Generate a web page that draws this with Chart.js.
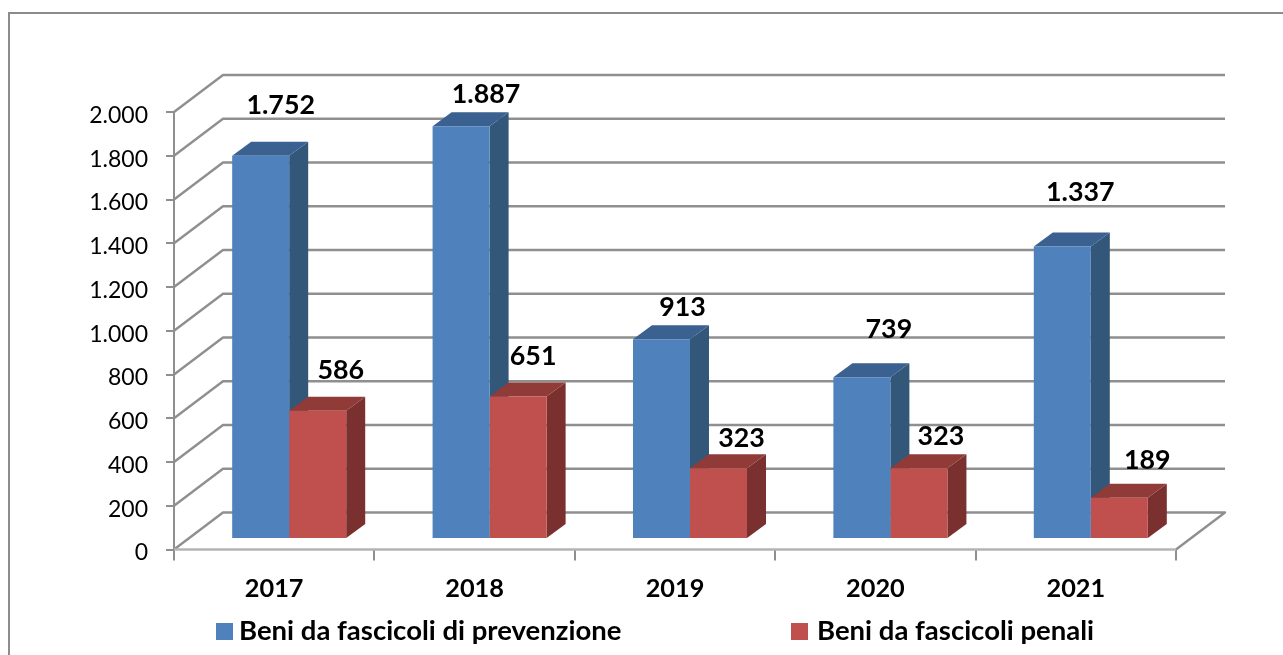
<!DOCTYPE html>
<html lang="it">
<head>
<meta charset="utf-8">
<title>Beni da fascicoli</title>
<script src="https://cdn.jsdelivr.net/npm/chart.js@4"></script>
<style>
  html, body { margin: 0; padding: 0; background: #fff; overflow: hidden; }
  canvas { display: block; }
</style>
</head>
<body>
<canvas id="chart" width="1283" height="655"></canvas>
<script>
const years = ['2017', '2018', '2019', '2020', '2021'];
const prevenzione = [1752, 1887, 913, 739, 1337];
const penali = [586, 651, 323, 323, 189];
const yTickLabels = ['0', '200', '400', '600', '800', '1.000', '1.200', '1.400', '1.600', '1.800', '2.000'];

// the value labels were placed by hand in the original, so each has its own nudge
const labelNudgeX = [[20, 25, 21, 27, 18], [23, 15, 23, 22, 28]];
const labelLift = [[50, 32, 32, 48, 54], [40, 40, 30, 32, 37]];

const legendBoxX = [216, 791];
const legendTextX = [239, 817];

const faces = [
  { front: '#4f81bd', side: '#335779', top: '#3a618f' },
  { front: '#c0504d', side: '#7a302e', top: '#903b38' },
];
const gridColor = '#8f8f8f';
const wall = { x: 49, y: -37 };    // depth of the chart box
const plane = { x: 15, y: -10.5 }; // where the bars stand on the floor
const depth = { x: 19, y: -14 };   // depth of one bar
const fontName = 'Lato, Carlito, Calibri, sans-serif';

function fmt(v) {
  return String(v).replace(/\B(?=(\d{3})+$)/g, '.');
}

function poly(ctx, color, pts) {
  ctx.fillStyle = color;
  ctx.beginPath();
  pts.forEach((p, i) => (i ? ctx.lineTo(p[0], p[1]) : ctx.moveTo(p[0], p[1])));
  ctx.closePath();
  ctx.fill();
}

const box3d = {
  id: 'box3d',
  beforeDraw(chart) {
    const { ctx, width, height } = chart;
    ctx.save();
    ctx.strokeStyle = '#8c8c8c';
    ctx.lineWidth = 2;
    ctx.beginPath();
    ctx.moveTo(9, height + 2);
    ctx.lineTo(9, 13);
    ctx.lineTo(width + 2, 13);
    ctx.stroke();
    ctx.restore();
  },
  beforeDatasetsDraw(chart) {
    const { ctx, chartArea, scales } = chart;
    const { left, right, bottom } = chartArea;
    ctx.save();
    ctx.strokeStyle = gridColor;
    ctx.lineWidth = 2.4;
    ctx.lineJoin = 'round';
    scales.y.ticks.forEach((t) => {
      const y = scales.y.getPixelForValue(t.value);
      ctx.beginPath();
      ctx.moveTo(left, y);
      ctx.lineTo(left + wall.x, y + wall.y);
      ctx.lineTo(right + wall.x, y + wall.y);
      if (t.value === 0) ctx.lineTo(right, y);
      ctx.stroke();
    });
    ctx.strokeStyle = '#b4b4b4';
    ctx.beginPath();
    ctx.moveTo(left, bottom);
    ctx.lineTo(right, bottom);
    ctx.stroke();
    ctx.restore();

    // bar sides and tops go first, the library then paints the fronts over them
    ctx.save();
    ctx.translate(plane.x, plane.y);
    chart.data.datasets.forEach((ds, di) => {
      chart.getDatasetMeta(di).data.forEach((bar) => {
        const l = bar.x - bar.width / 2;
        const r = bar.x + bar.width / 2;
        poly(ctx, faces[di].side, [
          [r, bar.y], [r + depth.x, bar.y + depth.y],
          [r + depth.x, bar.base + depth.y], [r, bar.base],
        ]);
        poly(ctx, faces[di].top, [
          [l, bar.y], [l + depth.x, bar.y + depth.y],
          [r + depth.x, bar.y + depth.y], [r, bar.y],
        ]);
      });
    });
    // left open on purpose, closed in afterDatasetsDraw
  },
  afterDatasetsDraw(chart) {
    const { ctx } = chart;
    ctx.restore();

    ctx.save();
    ctx.fillStyle = '#000';
    ctx.font = 'bold 26.8px ' + fontName;
    ctx.textAlign = 'center';
    ctx.textBaseline = 'middle';
    chart.data.datasets.forEach((ds, di) => {
      chart.getDatasetMeta(di).data.forEach((bar, i) => {
        const x = bar.x + plane.x + labelNudgeX[di][i];
        const y = bar.y + plane.y - labelLift[di][i];
        ctx.fillText(fmt(ds.data[i]), x, y);
      });
    });
    ctx.restore();
  },
  afterDraw(chart) {
    const { ctx } = chart;
    ctx.save();
    ctx.font = 'bold 27.5px ' + fontName;
    ctx.textAlign = 'left';
    ctx.textBaseline = 'middle';
    chart.data.datasets.forEach((ds, di) => {
      ctx.fillStyle = ds.backgroundColor;
      ctx.fillRect(legendBoxX[di], 623, 17, 17);
      ctx.fillStyle = '#000';
      ctx.fillText(ds.label, legendTextX[di], 631);
    });
    ctx.restore();
  },
};

new Chart(document.getElementById('chart'), {
  type: 'bar',
  data: {
    labels: years,
    datasets: [
      { label: 'Beni da fascicoli di prevenzione', data: prevenzione, backgroundColor: faces[0].front, borderWidth: 0 },
      { label: 'Beni da fascicoli penali', data: penali, backgroundColor: faces[1].front, borderWidth: 0 },
    ],
  },
  options: {
    responsive: false,
    animation: false,
    categoryPercentage: 0.569,
    barPercentage: 1,
    layout: { padding: { left: 0, right: 107, top: 112, bottom: 0 } },
    plugins: {
      legend: { display: false },
      tooltip: { enabled: false },
    },
    scales: {
      x: {
        afterFit(axis) { axis.height = 105.5; },
        grid: { drawOnChartArea: false, color: gridColor, lineWidth: 2, tickLength: 11, offset: true },
        border: { display: false },
        ticks: { color: '#000', font: { family: fontName, size: 25.3, weight: 'bold' }, padding: 13, maxRotation: 0 },
      },
      y: {
        min: 0,
        max: 2000,
        afterFit(axis) { axis.width = 174; },
        grid: { drawOnChartArea: false, color: gridColor, lineWidth: 2, tickLength: 8 },
        border: { color: gridColor, width: 2 },
        ticks: {
          stepSize: 200,
          color: '#000',
          font: { family: fontName, size: 23, lineHeight: '7px' },
          padding: 18,
          // empty first line pushes the digits down to sit on the tick
          callback: (v, i) => ['', yTickLabels[i]],
        },
      },
    },
  },
  plugins: [box3d],
});
</script>
</body>
</html>
